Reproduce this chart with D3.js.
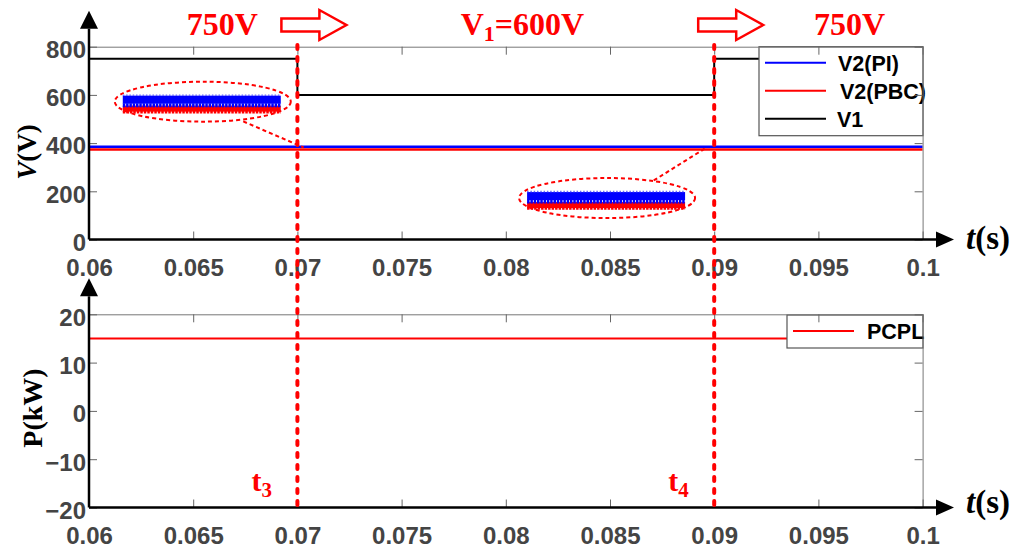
<!DOCTYPE html>
<html>
<head>
<meta charset="utf-8">
<script src="https://cdn.jsdelivr.net/npm/d3@7"></script>
<style>
  body { margin: 0; background: #fff; }
  svg { display: block; }
  .tick text { font-family: "Liberation Sans", Arial, sans-serif; font-weight: bold; font-size: 24px; fill: #444; }
  .tick line { stroke: #666; }
</style>
</head>
<body>
<svg id="chart" width="1023" height="548"></svg>
<script>
// ---- data ----
const timeTicks = [0.06, 0.065, 0.07, 0.075, 0.08, 0.085, 0.09, 0.095, 0.1];
const voltTicks = [0, 200, 400, 600, 800];
const powerTicks = [-20, -10, 0, 10, 20];

const v1Time = [0.06, 0.07, 0.07, 0.09, 0.09, 0.1];
const v1Value = [750, 750, 600, 600, 750, 750];
const v2Time = [0.06, 0.1];
const v2PI = [385, 385];
const v2PBC = [373, 373];
const pcplTime = [0.06, 0.1];
const pcpl = [15, 15];

const switchTimes = [0.07, 0.09];
const switchLabels = ["3", "4"];
const stageLabels = [
  { t: 0.0664, text: "750V" },
  { t: 0.0808, text: "V", sub: "1", rest: "=600V" },
  { t: 0.0965, text: "750V" }
];
// zoom-in insets: centre (t, V) and where the connector hits the traces
const insets = [
  { t: 0.06546, v: 572, from: [0.0674, 490], to: [0.0703, 382] },
  { t: 0.08486, v: 172, from: [0.0871, 245], to: [0.0896, 380] }
];

// ---- layout ----
const svg = d3.select("#chart");
const X0 = 89, X1 = 922.6;
const x = d3.scaleLinear().domain([0.06, 0.1]).range([X0, X1]);
const yTop = d3.scaleLinear().domain([0, 800]).range([239.5, 46.7]);
const yBot = d3.scaleLinear().domain([-20, 20]).range([507.5, 314.3]);

const RED = "#ff0000", BLUE = "#0000ff";
const serif = "'Liberation Serif', 'Times New Roman', serif";
const sans = "'Liberation Sans', Arial, sans-serif";

const fmtT = d => String(d);
const fmtP = d => d < 0 ? "\u2212" + Math.abs(d) : String(d);

function series(g, xs, ys, yScale, color, width) {
  const line = d3.line().x(d => x(d[0])).y(d => yScale(d[1]));
  g.append("path")
    .datum(xs.map((t, i) => [t, ys[i]]))
    .attr("d", line)
    .attr("fill", "none")
    .attr("stroke", color)
    .attr("stroke-width", width);
}

function frame(yScale, ticks, fmt, labelDy) {
  const yT = yScale.range()[1], yB = yScale.range()[0];
  // top + right grey border with inward ticks
  const gt = svg.append("g").attr("transform", `translate(0,${yT})`)
    .call(d3.axisTop(x).tickValues(timeTicks).tickSize(-8).tickSizeOuter(0).tickFormat(""));
  gt.select(".domain").attr("stroke", "#777");
  const gr = svg.append("g").attr("transform", `translate(${X1},0)`)
    .call(d3.axisRight(yScale).tickValues(ticks).tickSize(-8).tickSizeOuter(0).tickFormat(""));
  gr.select(".domain").attr("stroke", "#777");

  // bottom + left with labels
  const gb = svg.append("g").attr("transform", `translate(0,${yB})`)
    .call(d3.axisBottom(x).tickValues(timeTicks).tickSize(-8).tickPadding(19).tickFormat(fmtT));
  gb.select(".domain").remove();
  const gl = svg.append("g").attr("transform", `translate(${X0},0)`)
    .call(d3.axisLeft(yScale).tickValues(ticks).tickSize(-8).tickPadding(3).tickFormat(fmt));
  gl.select(".domain").remove();
  gl.selectAll("text").attr("dy", "0.45em");

  // black axes with arrow heads
  svg.append("line").attr("x1", X0).attr("x2", 936).attr("y1", yB).attr("y2", yB)
    .attr("stroke", "#000").attr("stroke-width", 2.5);
  svg.append("path").attr("d", `M936,${yB - 8}L954,${yB}L936,${yB + 8}Z`).attr("fill", "#000");
  svg.append("line").attr("x1", X0).attr("x2", X0).attr("y1", yB).attr("y2", yT - 18)
    .attr("stroke", "#000").attr("stroke-width", 2.5);
  svg.append("path").attr("d", `M${X0 - 9},${yT - 18}L${X0},${yT - 36}L${X0 + 9},${yT - 18}Z`).attr("fill", "#000");

  // t(s)
  const lab = svg.append("text").attr("x", 966).attr("y", yB + labelDy)
    .attr("font-family", serif).attr("font-weight", "bold").attr("font-size", 33).attr("fill", "#000");
  lab.append("tspan").attr("font-style", "italic").text("t");
  lab.append("tspan").text("(s)");
}

function legend(left, y0, width, items) {
  const h = items.length * 28 + 5;
  const g = svg.append("g");
  g.append("rect").attr("x", left).attr("y", y0).attr("width", width).attr("height", h)
    .attr("fill", "#fff").attr("stroke", "#555").attr("stroke-width", 1.2);
  items.forEach((it, i) => {
    const cy = y0 + 16 + i * 28;
    g.append("line").attr("x1", left + 6).attr("x2", left + 67).attr("y1", cy).attr("y2", cy)
      .attr("stroke", it.color).attr("stroke-width", 2);
    g.append("text").attr("x", left + it.dx).attr("y", cy + 8)
      .attr("font-family", sans).attr("font-weight", "bold").attr("font-size", 21.5)
      .attr("fill", "#000").text(it.label);
  });
}

// ---- top panel ----
const topPanel = svg.append("g");
series(topPanel, v2Time, v2PI, yTop, BLUE, 2.5);
series(topPanel, v2Time, v2PBC, yTop, RED, 2.5);
series(topPanel, v1Time, v1Value, yTop, "#000", 2);

// ripple insets
insets.forEach(d => {
  const cx = x(d.t), cy = yTop(d.v);
  const g = svg.append("g");
  g.append("ellipse").attr("cx", cx).attr("cy", cy).attr("rx", 88).attr("ry", 20)
    .attr("fill", "none").attr("stroke", RED).attr("stroke-width", 2).attr("stroke-dasharray", "4,3");
  g.append("rect").attr("x", cx - 80).attr("y", cy + 4).attr("width", 158).attr("height", 6).attr("fill", RED);
  g.append("line").attr("x1", cx - 80).attr("x2", cx + 78).attr("y1", cy + 10.5).attr("y2", cy + 10.5)
    .attr("stroke", RED).attr("stroke-width", 2.5).attr("stroke-dasharray", "2.5,1");
  g.append("rect").attr("x", cx - 80).attr("y", cy - 6).attr("width", 158).attr("height", 8).attr("fill", BLUE);
  g.append("line").attr("x1", cx - 80).attr("x2", cx + 78).attr("y1", cy + 3.5).attr("y2", cy + 3.5)
    .attr("stroke", BLUE).attr("stroke-width", 4).attr("stroke-dasharray", "2.5,0.8");
  g.append("line").attr("x1", cx - 80).attr("x2", cx + 78).attr("y1", cy - 6.5).attr("y2", cy - 6.5)
    .attr("stroke", "#6a6aff").attr("stroke-width", 1.5).attr("stroke-dasharray", "1.5,1.8");
  g.append("line")
    .attr("x1", x(d.from[0])).attr("y1", yTop(d.from[1]))
    .attr("x2", x(d.to[0])).attr("y2", yTop(d.to[1]))
    .attr("stroke", RED).attr("stroke-width", 2).attr("stroke-dasharray", "4,3");
});

legend(759, 46.7, 164, [
  { label: "V2(PI)", color: BLUE, dx: 79 },
  { label: "V2(PBC)", color: RED, dx: 81 },
  { label: "V1", color: "#000", dx: 78 }
]);
frame(yTop, voltTicks, d => String(d), 9);

// ---- bottom panel ----
const botPanel = svg.append("g");
series(botPanel, pcplTime, pcpl, yBot, RED, 2);
legend(787, 315, 136, [{ label: "PCPL", color: RED, dx: 80 }]);
frame(yBot, powerTicks, fmtP, 5);

// y labels
const yl1 = svg.append("text").attr("transform", "translate(36,152) rotate(-90)")
  .attr("text-anchor", "middle").attr("font-family", serif).attr("font-weight", "bold")
  .attr("font-size", 27).attr("fill", "#000");
yl1.append("tspan").attr("font-style", "italic").text("V");
yl1.append("tspan").text("(V)");
svg.append("text").attr("transform", "translate(42,408) rotate(-90)")
  .attr("text-anchor", "middle").attr("font-family", serif).attr("font-weight", "bold")
  .attr("font-size", 28).attr("fill", "#000").text("P(kW)");

// switching instants
switchTimes.forEach((t, i) => {
  const xv = x(t);
  svg.append("line").attr("x1", xv).attr("x2", xv).attr("y1", 45).attr("y2", 507)
    .attr("stroke", RED).attr("stroke-width", 4).attr("stroke-linecap", "round")
    .attr("stroke-dasharray", "4,8");
  const lt = svg.append("text").attr("x", xv - 46).attr("y", 491)
    .attr("font-family", serif).attr("font-weight", "bold").attr("font-size", 30).attr("fill", RED);
  lt.append("tspan").text("t");
  lt.append("tspan").attr("font-size", 21).attr("dy", 6).text(switchLabels[i]);

  // block arrow
  const a = xv - 16;
  svg.append("path")
    .attr("d", `M${a},18.5L${a + 38},18.5L${a + 38},10L${a + 65},25L${a + 38},40L${a + 38},31.5L${a},31.5Z`)
    .attr("fill", "#fff").attr("stroke", RED).attr("stroke-width", 2.5).attr("stroke-linejoin", "miter");
});

// stage labels
stageLabels.forEach(s => {
  const t = svg.append("text").attr("x", x(s.t)).attr("y", 35).attr("text-anchor", "middle")
    .attr("font-family", serif).attr("font-weight", "bold").attr("font-size", 32).attr("fill", RED);
  t.append("tspan").text(s.text);
  if (s.sub) {
    t.append("tspan").attr("font-size", 22).attr("dy", 6).text(s.sub);
    t.append("tspan").attr("dy", -6).text(s.rest);
  }
});
</script>
</body>
</html>
